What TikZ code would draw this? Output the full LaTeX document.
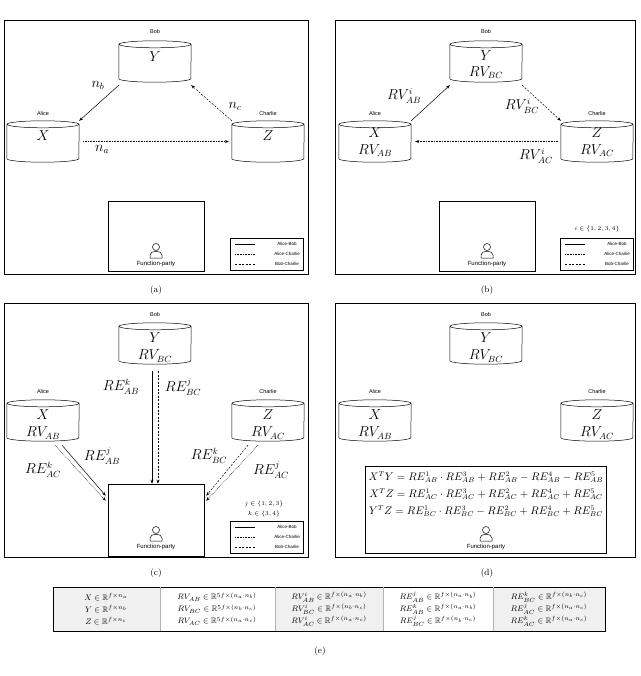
\documentclass[tikz,border=0pt]{standalone}
\usepackage{fontspec}
\usepackage{amsmath,amssymb}
\newfontfamily\lsans{Liberation Sans}
\usetikzlibrary{arrows.meta,calc}
\begin{document}
\begin{tikzpicture}[x=1pt,y=-1pt,
 lab/.style={font=\lsans\fontsize{5.5}{6}\selectfont,inner sep=0},
 big/.style={font=\fontsize{13.5}{14}\selectfont,inner sep=0},
 mid/.style={font=\fontsize{10.5}{11}\selectfont,inner sep=0},
 cylbox/.style={inner sep=0,minimum width=72pt,minimum height=41pt},
 frame/.style={draw,line width=0.9pt},
 arr/.style={-{Stealth[length=4pt,width=3pt]},line width=0.5pt},
 dotl/.style={dash pattern=on 0.6pt off 1pt},
 ab/.style={arr},
 ac/.style={arr,dotl},
 bc/.style={arr,dash pattern=on 2pt off 1.5pt},
 fbox/.style={draw,line width=0.5pt,inner sep=0}]
\useasboundingbox (0,0) rectangle (640,676);
\newcommand\cyl[3]{%
 \node[cylbox] (#1) at (#2,#3+20.5) {};
 \draw[line width=0.5pt] ($(#1.north)+(0,3.5)$) ellipse [x radius=36,y radius=3.5];
 \draw[line width=0.5pt] ($(#1.north west)+(0,3.5)$) -- ($(#1.south west)+(0,-3.5)$)
   arc[start angle=180,end angle=0,x radius=36,y radius=3.5] -- ($(#1.north east)+(0,3.5)$);}
\newcommand\person[2]{%
 \draw[line width=0.5pt] (#1,#2-5) circle (3.5);
 \draw[line width=0.5pt] (#1-6,#2+6) -- (#1-6,#2+3) .. controls (#1-6,#2-2) and (#1+6,#2-2) .. (#1+6,#2+3) -- (#1+6,#2+6) -- cycle;
 \node[lab,font=\lsans\fontsize{6}{6}\selectfont] at (#1,#2+12) {Function-party};}
\newcommand\legendbox[3]{%
 \node[fbox,minimum width=73pt,minimum height=32pt] (#1) at (#2,#3) {};
 \draw[line width=0.5pt] (#2-32,#3-10) -- (#2-12,#3-10);
 \draw[line width=0.5pt,dotl] (#2-32,#3) -- (#2-12,#3);
 \draw[line width=0.5pt,dash pattern=on 2pt off 1.5pt] (#2-32,#3+10) -- (#2-12,#3+10);
 \node[lab,font=\lsans\fontsize{4.5}{5}\selectfont] at (#2+20,#3-10) {Alice-Bob};
 \node[lab,font=\lsans\fontsize{4.5}{5}\selectfont] at (#2+20,#3) {Alice-Charlie};
 \node[lab,font=\lsans\fontsize{4.5}{5}\selectfont] at (#2+20,#3+10) {Bob-Charlie};}

% ---------- (a)
\draw[frame] (4,20) rectangle (308,274);
\cyl{aB}{155}{41} \cyl{aA}{43}{121} \cyl{aC}{268}{121}
\node[lab] at (155,32) {Bob}; \node[lab] at (43,114) {Alice}; \node[lab] at (268,114) {Charlie};
\node[big] at (155,57) {$Y$}; \node[big] at (43,136) {$X$}; \node[big] at (268,136) {$Z$};
\draw[ab] ($(aB.south west)+(0,3)$) -- (aA.north east);
\draw[bc] (aC.north west) -- ($(aB.south east)+(0,3)$);
\draw[ac] ($(aA.east)+(4,0)$) -- ($(aC.west)+(-3,0)$);
\node[big] at (98,85) {$n_b$}; \node[big] at (235,106) {$n_c$}; \node[big] at (102,149) {$n_a$};
\node[fbox,minimum width=96pt,minimum height=70pt] (aF) at (156,236) {};
\person{156}{252}
\legendbox{aL}{267}{254}
\node[font=\fontsize{9}{10}\selectfont] at (156,290) {(a)};

% ---------- (b)
\draw[frame] (335,20) rectangle (635,274);
\cyl{bB}{486}{41} \cyl{bA}{375}{121} \cyl{bC}{597}{121}
\node[lab] at (486,32) {Bob}; \node[lab] at (375,114) {Alice}; \node[lab] at (597,114) {Charlie};
\node[big] at (486,56) {$Y$}; \node[big] at (486,73) {$RV_{BC}$};
\node[big] at (375,133) {$X$}; \node[big] at (375,151) {$RV_{AB}$};
\node[big] at (597,133) {$Z$}; \node[big] at (597,151) {$RV_{AC}$};
\draw[ab] (bA.north east) -- ($(bB.south west)+(0,3)$);
\draw[bc] ($(bB.south east)+(0,3)$) -- (bC.north west);
\draw[ac] ($(bC.west)+(-3,0)$) -- ($(bA.east)+(4,0)$);
\node[big] at (404,96) {$RV^i_{AB}$}; \node[big] at (522,106) {$RV^i_{BC}$}; \node[big] at (536,156) {$RV^i_{AC}$};
\node[fbox,minimum width=96pt,minimum height=70pt] (bF) at (487,236) {};
\person{487}{252}
\node[font=\fontsize{6.5}{7}\selectfont] at (597,229) {$i\in\{1,2,3,4\}$};
\legendbox{bL}{597}{254}
\node[font=\fontsize{9}{10}\selectfont] at (487,290) {(b)};

% ---------- (c)
\draw[frame] (4,303) rectangle (308,557);
\cyl{cB}{155}{323} \cyl{cA}{43}{400} \cyl{cC}{268}{400}
\node[lab] at (155,315) {Bob}; \node[lab] at (43,392) {Alice}; \node[lab] at (268,392) {Charlie};
\node[big] at (155,338) {$Y$}; \node[big] at (155,356) {$RV_{BC}$};
\node[big] at (43,415) {$X$}; \node[big] at (43,433) {$RV_{AB}$};
\node[big] at (268,415) {$Z$}; \node[big] at (268,433) {$RV_{AC}$};
\node[fbox,minimum width=96pt,minimum height=72pt] (cF) at (156,520) {};
\coordinate (cb1) at ($(cB.south)+(-3,7)$); \coordinate (cb2) at ($(cB.south)+(3,7)$);
\draw[ab] (cb1) -- (cb1 |- cF.north);
\draw[bc] (cb2) -- (cb2 |- cF.north);
\draw[ac] ($(cA.south)+(12,4)$) -- ($(cF.north west)+(-2,17)$);
\draw[ab] ($(cA.south)+(19,4)$) -- ($(cF.north west)+(-2,12)$);
\draw[bc] ($(cC.south)+(-20,4)$) -- ($(cF.north east)+(2,12)$);
\draw[ac] ($(cC.south)+(-10,4)$) -- ($(cF.north east)+(2,17)$);
\node[big] at (121,387) {$RE^k_{AB}$}; \node[big] at (183,387) {$RE^j_{BC}$};
\node[big] at (43,470) {$RE^k_{AC}$}; \node[big] at (102,456) {$RE^j_{AB}$};
\node[big] at (209,456) {$RE^k_{BC}$}; \node[big] at (271,470) {$RE^j_{AC}$};
\person{156}{535}
\node[font=\fontsize{6.5}{7}\selectfont] at (264,504) {$j\in\{1,2,3\}$};
\node[font=\fontsize{6.5}{7}\selectfont] at (264,514) {$k\in\{3,4\}$};
\legendbox{cL}{267}{537}
\node[font=\fontsize{9}{10}\selectfont] at (156,573) {(c)};

% ---------- (d)
\draw[frame] (335,303) rectangle (635,557);
\cyl{dB}{486}{323} \cyl{dA}{375}{400} \cyl{dC}{597}{400}
\node[lab] at (486,315) {Bob}; \node[lab] at (375,392) {Alice}; \node[lab] at (597,392) {Charlie};
\node[big] at (486,338) {$Y$}; \node[big] at (486,356) {$RV_{BC}$};
\node[big] at (375,415) {$X$}; \node[big] at (375,433) {$RV_{AB}$};
\node[big] at (597,415) {$Z$}; \node[big] at (597,433) {$RV_{AC}$};
\node[fbox,minimum width=241pt,minimum height=87pt] (dF) at (486,510) {};
\node[mid] at (486,477) {$X^TY=RE^1_{AB}\cdot RE^3_{AB}+RE^2_{AB}-RE^4_{AB}-RE^5_{AB}$};
\node[mid] at (486,494) {$X^TZ=RE^1_{AC}\cdot RE^3_{AC}+RE^2_{AC}+RE^4_{AC}+RE^5_{AC}$};
\node[mid] at (486,511) {$Y^TZ=RE^1_{BC}\cdot RE^3_{BC}-RE^2_{BC}+RE^4_{BC}+RE^5_{BC}$};
\person{486}{535}
\node[font=\fontsize{9}{10}\selectfont] at (487,573) {(d)};

% ---------- (e)
\fill[gray!12] (53,587) rectangle (160,631);
\fill[gray!12] (275,587) rectangle (383,631);
\fill[gray!12] (493,587) rectangle (605,631);
\draw[line width=0.9pt] (53,587) rectangle (605,631);
\foreach \x in {160,275,383,493} \draw[gray!60,line width=0.4pt] (\x,587) -- (\x,631);
\begin{scope}[every node/.style={font=\fontsize{8}{9}\selectfont,inner sep=0}]
\node at (106,597) {$X\in\mathbb{R}^{f\times n_a}$};
\node at (106,609) {$Y\in\mathbb{R}^{f\times n_b}$};
\node at (106,621) {$Z\in\mathbb{R}^{f\times n_c}$};
\node at (217,597) {$RV_{AB}\in\mathbb{R}^{5f\times(n_a\cdot n_b)}$};
\node at (217,609) {$RV_{BC}\in\mathbb{R}^{5f\times(n_b\cdot n_c)}$};
\node at (217,621) {$RV_{AC}\in\mathbb{R}^{5f\times(n_a\cdot n_c)}$};
\node at (329,597) {$RV^i_{AB}\in\mathbb{R}^{f\times(n_a\cdot n_b)}$};
\node at (329,609) {$RV^i_{BC}\in\mathbb{R}^{f\times(n_b\cdot n_c)}$};
\node at (329,621) {$RV^i_{AC}\in\mathbb{R}^{f\times(n_a\cdot n_c)}$};
\node at (438,597) {$RE^j_{AB}\in\mathbb{R}^{f\times(n_a\cdot n_b)}$};
\node at (438,609) {$RE^k_{AB}\in\mathbb{R}^{f\times(n_a\cdot n_b)}$};
\node at (438,621) {$RE^j_{BC}\in\mathbb{R}^{f\times(n_b\cdot n_c)}$};
\node at (549,597) {$RE^k_{BC}\in\mathbb{R}^{f\times(n_b\cdot n_c)}$};
\node at (549,609) {$RE^j_{AC}\in\mathbb{R}^{f\times(n_a\cdot n_c)}$};
\node at (549,621) {$RE^k_{AC}\in\mathbb{R}^{f\times(n_a\cdot n_c)}$};
\end{scope}
\node[font=\fontsize{9}{10}\selectfont] at (320,651) {(e)};
\end{tikzpicture}
\end{document}
